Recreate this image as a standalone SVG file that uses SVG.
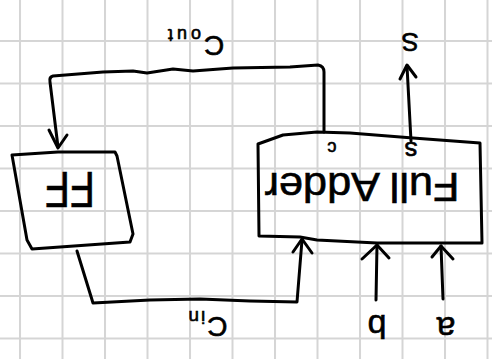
<svg xmlns="http://www.w3.org/2000/svg" width="493" height="360" viewBox="0 0 493 360">
<defs>
<pattern id="grid" patternUnits="userSpaceOnUse" x="20" y="41" width="42.5" height="42.5">
<path d="M1 0 V42.5 M0 1 H42.5" fill="none" stroke="#d5d5d5" stroke-width="2"/>
</pattern>
<style>
.ink{fill:none;stroke:#000;stroke-width:3;stroke-linecap:round;stroke-linejoin:round}
.t{font-family:"Liberation Sans","DejaVu Sans",sans-serif;fill:#000;stroke:#000;stroke-width:0.6;text-anchor:middle}
</style>
</defs>
<rect width="493" height="360" fill="#fff"/>
<rect x="0" y="0" width="493" height="360" fill="url(#grid)" transform="translate(-1,-1)"/>

<g id="connectors">
<path class="ink" d="M324 132 L324 72 Q324 66 318 65 L290 67 L233 68 L193 71 L173 69 L147 73 L133 71 L103 72 L53 76 Q49 77 50 82 L58 147"/>
<path class="ink" d="M49 130 L58 148 L67 135"/>
<path class="ink" d="M77 251 L93 303 L150 300 L200 299 L250 301 L297 302 L302 240"/>
<path class="ink" d="M293 252 L302 239 L312 253"/>
<path class="ink" d="M411 141 L407 66"/>
<path class="ink" d="M400 79 L407 65 L416 77"/>
<path class="ink" d="M376 300 L377 245"/>
<path class="ink" d="M362 259 L377 245 L389 258"/>
<path class="ink" d="M443 299 L441 246"/>
<path class="ink" d="M432 257 L441 246 L453 259"/>
<text class="t" x="194" y="48" font-size="28" transform="rotate(180 194 42)">C<tspan font-size="18" dy="7" dx="3" letter-spacing="4">out</tspan></text>
<text class="t" x="207" y="333" font-size="28" transform="rotate(180 207 325)">C<tspan font-size="19" dy="6" dx="2" letter-spacing="2">in</tspan></text>
<text class="t" x="410" y="51" font-size="26" transform="rotate(180 410 42)">S</text>
<text class="t" x="377" y="343" font-size="34" transform="rotate(180 377 329)">b</text>
<text class="t" x="446" y="335" font-size="34" transform="rotate(180 446 326)">a</text>
</g>

<g id="ff">
<path class="ink" d="M12 155 L58 152 L115 152 L117 156 L133 234 L130 242 L32 249 L27 240 Z"/>
<text class="t" x="70" y="210" font-size="50" textLength="50" lengthAdjust="spacingAndGlyphs" transform="rotate(180 70 191)">FF</text>
</g>

<g id="full-adder">
<path class="ink" d="M258 144 L283 135 L317 132 L350 133 L413 138 L480 143 L482 243 L443 243 L377 243 L317 240 L300 237 L259 236 Z"/>
<text class="t" x="362" y="211" font-size="40" textLength="195" lengthAdjust="spacingAndGlyphs" transform="rotate(180 362 192)">Full Adder</text>
<text class="t" x="332" y="152" font-size="18" transform="rotate(180 332 147)">c</text>
<text class="t" x="411" y="160" font-size="26" transform="rotate(180 411 151)">s</text>
</g>
</svg>
